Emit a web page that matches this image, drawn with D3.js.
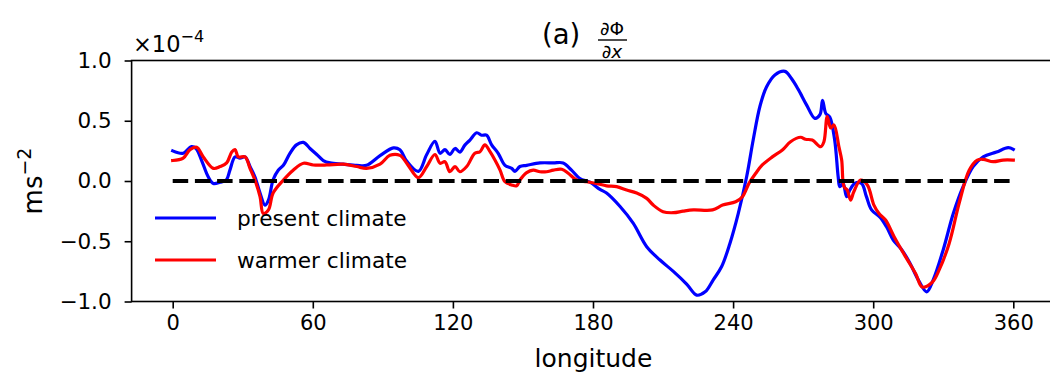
<!DOCTYPE html>
<html>
<head>
<meta charset="utf-8">
<script src="https://cdn.jsdelivr.net/npm/d3@7"></script>
<style>
  html, body { margin: 0; padding: 0; background: #fff; }
  svg { display: block; font-family: "DejaVu Sans", sans-serif; }
</style>
</head>
<body>
<svg id="chart" width="1050" height="379"></svg>
<script>
// Zonal geopotential gradient (units of 1e-4 m s^-2) against longitude
const presentLon = [0,4.5,8,10,12.4,15.2,17.4,20.3,23,24.5,26.7,28.8,31,33.1,35.2,37.4,39.5,41,43,45.2,47.4,50.2,53,56,58.8,61.7,64.5,67.4,73,78.8,83,88.8,94.5,97.3,100.2,105.2,108.8,112.3,114.5,116.6,118.7,120.9,123,125.2,127.3,130.2,132.3,134.4,136.6,139.4,142.3,145.2,146.6,148.7,151.6,157.3,163,167.2,170.8,174.4,178.7,183,185.8,191.5,197.2,203,208.7,214.4,220.1,224.4,228,231.5,235.1,238.6,242.2,245.8,248.6,251.5,254.3,257.9,262.2,265,267.9,271.5,275,277.2,278.3,279.7,281.4,283.5,285,285.7,287.1,288.6,290,292.1,295,297.1,299.3,302.9,305.7,308.6,312.2,315.7,319.3,322.9,325.7,330,334.3,338.5,342.8,347.1,352.8,357.8,360];
const presentVal = [0.25,0.23,0.285,0.27,0.17,0.035,-0.02,-0.01,0.01,0.09,0.2,0.19,0.2,0.12,0.035,-0.1,-0.2,-0.16,0.01,0.09,0.13,0.23,0.3,0.32,0.27,0.22,0.17,0.15,0.14,0.13,0.13,0.21,0.275,0.26,0.165,0.08,0.22,0.33,0.23,0.26,0.22,0.27,0.24,0.3,0.34,0.4,0.38,0.38,0.3,0.23,0.13,0.105,0.08,0.12,0.13,0.15,0.15,0.15,0.09,0.02,-0.01,-0.07,-0.1,-0.21,-0.35,-0.545,-0.656,-0.75,-0.855,-0.947,-0.92,-0.82,-0.71,-0.52,-0.27,0.035,0.34,0.62,0.78,0.88,0.91,0.85,0.76,0.63,0.52,0.55,0.67,0.56,0.53,0.34,0.035,-0.047,-0.02,-0.13,-0.075,-0.02,-0.02,-0.13,-0.24,-0.3,-0.38,-0.49,-0.57,-0.68,-0.82,-0.92,-0.82,-0.57,-0.27,-0.047,0.12,0.2,0.24,0.277,0.263];

const warmerLon = [0,4.5,7.4,10.3,13.1,17.4,20.3,23.1,25.3,26.7,28.1,31,33.1,35.2,37.4,38.8,41,43,47.4,51.6,56,60.2,66,73,78.8,83,88.8,93,97.3,100.5,105.2,108.8,112.3,114.5,116.6,118.7,120.9,123,125.9,129.4,131.6,133.7,135.9,138,140.2,142.3,145.2,147.3,148.7,151.6,154.4,157.3,160.1,163,166.6,169.4,173,177.3,181.5,185.8,190.1,194.4,198.7,203,205.8,210,214.4,218.6,223,231.2,235.5,241.1,244,246.8,249.7,252.5,256.8,261.1,264.6,268.9,271,273.9,277.5,278.9,280.3,281.8,283.2,285.3,286.5,287.5,288.9,290.3,291.7,294.6,297.5,300.3,302.5,305.3,308.9,313.9,318.2,321,325.3,328.2,332.5,336.8,341.1,344.6,347.1,351.4,355.6,360];
const warmerVal = [0.17,0.19,0.26,0.28,0.2,0.105,0.12,0.15,0.24,0.26,0.2,0.2,0.105,0.008,-0.13,-0.27,-0.24,-0.1,0.008,0.09,0.147,0.133,0.133,0.14,0.12,0.105,0.14,0.213,0.213,0.14,0.028,0.12,0.22,0.147,0.16,0.077,0.12,0.077,0.12,0.23,0.243,0.3,0.243,0.174,0.09,-0.006,-0.033,-0.04,0.008,0.07,0.09,0.077,0.077,0.09,0.097,0.064,0.008,-0.006,-0.02,-0.04,-0.047,-0.075,-0.1,-0.144,-0.2,-0.255,-0.263,-0.25,-0.24,-0.24,-0.2,-0.172,-0.13,-0.02,0.064,0.133,0.2,0.257,0.326,0.363,0.346,0.34,0.285,0.326,0.534,0.44,0.465,0.285,0.174,-0.047,-0.075,-0.158,-0.089,0.008,-0.033,-0.2,-0.27,-0.324,-0.46,-0.63,-0.77,-0.88,-0.84,-0.74,-0.52,-0.185,0.09,0.174,0.18,0.16,0.174,0.174];

const zeroLon = [0, 360];
const zeroVal = [0, 0];

const xTicks = [0, 60, 120, 180, 240, 300, 360];
const yTicks = [-1.0, -0.5, 0.0, 0.5, 1.0];
const seriesNames = ["present climate", "warmer climate"];
const seriesColors = ["#0000ff", "#ff0000"];

const svg = d3.select("#chart");

const x = d3.scaleLinear().domain([0, 360]).range([172.7, 1013.3]);
const y = d3.scaleLinear().domain([-1, 1]).range([301.5, 60.5]);

const plotLeft = x(-17.6), plotRight = x(378), plotTop = y(1), plotBottom = y(-1);

// curves
const curveLine = d3.line().x(d => x(d[0])).y(d => y(d[1]))
  .curve(d3.curveCatmullRom.alpha(0.5));
const series = [
  d3.zip(presentLon, presentVal),
  d3.zip(warmerLon, warmerVal)
];
series.forEach((pts, i) => {
  svg.append("path")
    .datum(pts)
    .attr("d", curveLine)
    .attr("fill", "none")
    .attr("stroke", seriesColors[i])
    .attr("stroke-width", 3.2)
    .attr("stroke-linejoin", "round")
    .attr("stroke-linecap", "square");
});

// zero reference
const straight = d3.line().x(d => x(d[0])).y(d => y(d[1]));
svg.append("path")
  .datum(d3.zip(zeroLon, zeroVal))
  .attr("d", straight)
  .attr("fill", "none")
  .attr("stroke", "#000")
  .attr("stroke-width", 4.2)
  .attr("stroke-dasharray", "15.5,6.7");

// axes
const xAxis = d3.axisBottom(x).tickValues(xTicks).tickSize(7).tickPadding(7)
  .tickFormat(d3.format("d"));
const gx = svg.append("g").attr("transform", `translate(0,${plotBottom})`).call(xAxis);
gx.select(".domain").remove();
gx.selectAll(".tick line").attr("stroke", "#000").attr("stroke-width", 1.6);
gx.selectAll(".tick text").attr("font-size", 21).attr("fill", "#000")
  .attr("font-family", "DejaVu Sans");

const yAxis = d3.axisLeft(y).tickValues(yTicks).tickSize(7).tickPadding(13)
  .tickFormat(d => d3.format(".1f")(d).replace("-", "\u2212"));
const gy = svg.append("g").attr("transform", `translate(${plotLeft},0)`).call(yAxis);
gy.select(".domain").remove();
gy.selectAll(".tick line").attr("stroke", "#000").attr("stroke-width", 1.6);
gy.selectAll(".tick text").attr("font-size", 21.5).attr("fill", "#000")
  .attr("font-family", "DejaVu Sans");

// frame
svg.append("rect")
  .attr("x", plotLeft).attr("y", plotTop)
  .attr("width", plotRight - plotLeft).attr("height", plotBottom - plotTop)
  .attr("fill", "none").attr("stroke", "#000").attr("stroke-width", 1.6);

// axis labels
svg.append("text")
  .attr("x", (plotLeft + plotRight) / 2).attr("y", 367)
  .attr("text-anchor", "middle").attr("font-size", 25)
  .text("longitude");

const yl = svg.append("text")
  .attr("transform", `translate(42,${(plotTop + plotBottom) / 2}) rotate(-90)`)
  .attr("text-anchor", "middle").attr("font-size", 26);
yl.append("tspan").text("ms");
yl.append("tspan").attr("dy", -11).attr("font-size", 19).text("\u22122");

// exponent offset
const off = svg.append("text").attr("x", 133).attr("y", 52).attr("font-size", 22.5);
off.append("tspan").text("\u00d710");
off.append("tspan").attr("dy", -10).attr("font-size", 16).text("\u22124");

// title: (a) dPhi/dx
const tg = svg.append("g");
tg.append("text").attr("x", 542).attr("y", 44).attr("font-size", 27.5).text("(a)");
tg.append("text").attr("x", 612).attr("y", 35).attr("font-size", 18.5)
  .attr("text-anchor", "middle").text("\u2202\u03a6");
tg.append("line").attr("x1", 598).attr("x2", 627).attr("y1", 40).attr("y2", 40)
  .attr("stroke", "#000").attr("stroke-width", 1.4);
const den = tg.append("text").attr("x", 612).attr("y", 58).attr("font-size", 18.5)
  .attr("text-anchor", "middle");
den.append("tspan").text("\u2202");
den.append("tspan").attr("font-style", "italic").text("x");

// legend
const legend = svg.append("g");
seriesNames.forEach((name, i) => {
  const ly = 218 + i * 42;
  legend.append("line")
    .attr("x1", 155).attr("x2", 216).attr("y1", ly).attr("y2", ly)
    .attr("stroke", seriesColors[i]).attr("stroke-width", 3.2);
  legend.append("text")
    .attr("x", 237).attr("y", ly).attr("dy", "0.35em")
    .attr("font-size", 21.7).text(name);
});
</script>
</body>
</html>
